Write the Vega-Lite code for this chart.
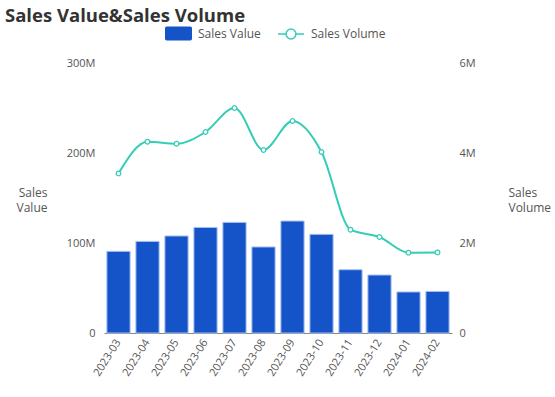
{
  "$schema": "https://vega.github.io/schema/vega-lite/v6.json",
  "width": 348,
  "height": 270,
  "autosize": "none",
  "padding": {"left": 104, "top": 63, "right": 103, "bottom": 64},
  "background": "white",
  "config": {
    "font": "Open Sans",
    "view": {"stroke": null},
    "axis": {"labelColor": "#555555", "titleColor": "#555555", "labelFontSize": 11, "titleFontSize": 12, "titleFontWeight": "normal", "grid": false}
  },
  "title": {
    "text": "Sales Value&Sales Volume",
    "anchor": "start",
    "frame": "group",
    "dx": -99,
    "dy": 9,
    "fontSize": 18.5,
    "fontWeight": "bold",
    "color": "#333333",
    "font": "Open Sans"
  },
  "data": {
    "values": [
      {"month": "2023-03", "value": 90700000, "volume": 3547000},
      {"month": "2023-04", "value": 101800000, "volume": 4251000},
      {"month": "2023-05", "value": 107800000, "volume": 4207000},
      {"month": "2023-06", "value": 117300000, "volume": 4467000},
      {"month": "2023-07", "value": 122900000, "volume": 5000000},
      {"month": "2023-08", "value": 95600000, "volume": 4067000},
      {"month": "2023-09", "value": 124400000, "volume": 4711000},
      {"month": "2023-10", "value": 109600000, "volume": 4022000},
      {"month": "2023-11", "value": 70300000, "volume": 2296000},
      {"month": "2023-12", "value": 64400000, "volume": 2133000},
      {"month": "2024-01", "value": 45600000, "volume": 1785000},
      {"month": "2024-02", "value": 46200000, "volume": 1791000}
    ]
  },
  "encoding": {
    "x": {
      "field": "month",
      "type": "nominal",
      "sort": null,
      "scale": {"paddingInner": 0.2, "paddingOuter": 0.1},
      "axis": {"title": null, "labelAngle": -58, "labelAlign": "right", "labelBaseline": "middle", "domainColor": "#888888", "ticks": false, "labelPadding": 7}
    }
  },
  "layer": [
    {
      "mark": {"type": "bar", "stroke": "#a8bff0", "strokeWidth": 1},
      "encoding": {
        "y": {
          "field": "value",
          "type": "quantitative",
          "scale": {"domain": [0, 300000000]},
          "axis": {"values": [0, 100000000, 200000000, 300000000], "format": "~s", "labelExpr": "datum.value === 0 ? '0' : datum.label", "ticks": false, "domain": false, "labelPadding": 9, "title": ["Sales", "Value"], "titleAngle": 0, "titleAlign": "right", "titleBaseline": "middle", "titleX": -57, "titleY": 129, "titleLineHeight": 15}
        },
        "fill": {
          "datum": "Sales Value",
          "scale": {"range": ["#1554c8"]},
          "legend": {
            "title": null,
            "orient": "none",
            "legendX": 61,
            "legendY": -43,
            "labelFontSize": 12,
            "labelColor": "#555555",
            "labelOffset": 6,
            "symbolSize": 676,
            "symbolType": "M-0.92,-0.5 H0.92 Q1,-0.5 1,-0.42 V0.42 Q1,0.5 0.92,0.5 H-0.92 Q-1,0.5 -1,0.42 V-0.42 Q-1,-0.5 -0.92,-0.5 Z",
            "symbolStrokeColor": "#1554c8",
            "symbolStrokeWidth": 1,
            "symbolOpacity": 1
          }
        }
      }
    },
    {
      "mark": {"type": "line", "interpolate": "monotone", "strokeWidth": 2, "point": {"filled": false, "fill": "white", "size": 22, "strokeWidth": 1.2}},
      "encoding": {
        "y": {
          "field": "volume",
          "type": "quantitative",
          "scale": {"domain": [0, 6000000]},
          "axis": {"orient": "right", "values": [0, 2000000, 4000000, 6000000], "format": "~s", "labelExpr": "datum.value === 0 ? '0' : datum.label", "ticks": false, "domain": false, "labelPadding": 7, "title": ["Sales", "Volume"], "titleAngle": 0, "titleAlign": "left", "titleBaseline": "middle", "titleX": 56, "titleY": 129, "titleLineHeight": 15}
        },
        "stroke": {
          "datum": "Sales Volume",
          "scale": {"range": ["#35ccb8"]},
          "legend": {
            "title": null,
            "orient": "none",
            "legendX": 173,
            "legendY": -43,
            "labelFontSize": 12,
            "labelColor": "#555555",
            "labelOffset": 6,
            "symbolSize": 676,
            "symbolType": "M-1,0 H-0.38 M0.38,0 H1 M0.38,0 A0.38,0.38 0 1,1 -0.38,0 A0.38,0.38 0 1,1 0.38,0",
            "symbolFillColor": "#ffffff",
            "symbolStrokeWidth": 1.5,
            "symbolOpacity": 1
          }
        }
      }
    }
  ],
  "resolve": {"scale": {"y": "independent"}}
}
